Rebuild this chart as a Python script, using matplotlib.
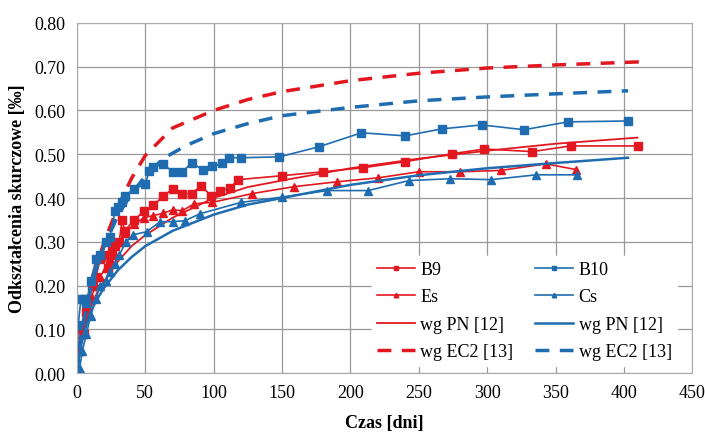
import matplotlib
matplotlib.use('Agg')
from matplotlib import pyplot as plt

plt.rcParams['font.family'] = ['Liberation Serif', 'DejaVu Serif']

RED = '#e3171f'
BLUE = '#1f6db0'

# measured series
b9_x = [0, 1, 3, 5, 7, 9, 11, 14, 17, 20, 23, 26, 28, 31, 33, 35, 42, 49, 56, 63,
        70, 77, 84, 91, 98, 105, 112, 118, 150, 180, 209, 240, 274, 298, 333, 361, 410]
b9_y = [0.00, 0.05, 0.10, 0.09, 0.14, 0.17, 0.20, 0.22, 0.26, 0.27, 0.24, 0.28, 0.29,
        0.30, 0.35, 0.325, 0.35, 0.37, 0.383, 0.404, 0.421, 0.41, 0.41, 0.428, 0.405,
        0.415, 0.423, 0.442, 0.451, 0.460, 0.469, 0.483, 0.501, 0.512, 0.506, 0.519, 0.519]

b10_x = [0, 1, 3, 5, 7, 10, 14, 17, 21, 24, 28, 30, 33, 35, 42, 50, 53, 56, 63, 70,
         77, 84, 92, 99, 106, 111, 120, 148, 177, 208, 240, 267, 296, 327, 359, 403]
b10_y = [0.00, 0.11, 0.17, 0.17, 0.16, 0.21, 0.26, 0.27, 0.30, 0.31, 0.37, 0.38, 0.39,
         0.405, 0.421, 0.432, 0.462, 0.47, 0.478, 0.46, 0.46, 0.48, 0.465, 0.472, 0.479,
         0.492, 0.492, 0.494, 0.517, 0.549, 0.542, 0.558, 0.567, 0.556, 0.574, 0.576]

es_x = [0, 2, 4, 7, 10, 14, 17, 21, 24, 28, 31, 35, 42, 49, 56, 63, 70, 77, 86, 99,
        128, 159, 190, 220, 250, 280, 310, 343, 365]
es_y = [0.00, 0.05, 0.09, 0.13, 0.17, 0.20, 0.22, 0.24, 0.26, 0.27, 0.30, 0.32, 0.34,
        0.355, 0.36, 0.365, 0.373, 0.371, 0.387, 0.39, 0.41, 0.426, 0.437, 0.446, 0.46,
        0.46, 0.463, 0.478, 0.465]

cs_x = [0, 2, 4, 7, 10, 14, 17, 21, 24, 28, 31, 36, 41, 51, 61, 70, 79, 90, 120, 150,
        183, 213, 243, 273, 303, 336, 366]
cs_y = [0.00, 0.01, 0.05, 0.09, 0.13, 0.17, 0.20, 0.21, 0.23, 0.25, 0.27, 0.30, 0.316,
        0.323, 0.346, 0.346, 0.348, 0.364, 0.39, 0.402, 0.417, 0.417, 0.44, 0.444, 0.442,
        0.453, 0.453]

# model curves
pn_red_x = [0, 2, 5, 10, 15, 20, 30, 40, 50, 70, 100, 125, 150, 200, 250, 300, 350, 410]
pn_red_y = [0.00, 0.05, 0.10, 0.15, 0.185, 0.21, 0.255, 0.29, 0.315, 0.355, 0.40, 0.425,
            0.44, 0.468, 0.49, 0.508, 0.524, 0.538]
pn_blue_x = [0, 2, 5, 10, 15, 20, 30, 40, 50, 70, 100, 125, 150, 200, 250, 300, 350, 403]
pn_blue_y = [0.00, 0.045, 0.09, 0.14, 0.17, 0.195, 0.235, 0.265, 0.29, 0.325, 0.362, 0.385,
             0.40, 0.43, 0.452, 0.468, 0.48, 0.492]
ec_red_x = [0, 2, 5, 10, 15, 20, 30, 40, 50, 70, 100, 125, 150, 200, 250, 300, 350, 411]
ec_red_y = [0.00, 0.06, 0.12, 0.19, 0.25, 0.30, 0.38, 0.445, 0.497, 0.56, 0.60, 0.625,
            0.643, 0.668, 0.685, 0.697, 0.704, 0.711]
ec_blue_x = [0, 2, 5, 10, 15, 20, 30, 40, 50, 63, 80, 100, 125, 150, 200, 250, 300, 350, 403]
ec_blue_y = [0.00, 0.06, 0.12, 0.19, 0.245, 0.29, 0.36, 0.41, 0.45, 0.49, 0.52, 0.547,
             0.57, 0.588, 0.607, 0.622, 0.631, 0.638, 0.645]

xticks = [0, 50, 100, 150, 200, 250, 300, 350, 400, 450]
yticks = [0.0, 0.1, 0.2, 0.3, 0.4, 0.5, 0.6, 0.7, 0.8]

fig = plt.figure(figsize=(7.05, 4.35), dpi=100)
ax = fig.add_axes([0.109, 0.14, 0.873, 0.805])

ax.plot(b9_x, b9_y, '-s', color=RED, lw=1.2, ms=5.5, label='B9')
ax.plot(es_x, es_y, '-^', color=RED, lw=1.2, ms=5.5, label='Es')
ax.plot(pn_red_x, pn_red_y, '-', color=RED, lw=1.3, label='wg PN [12]')
ax.plot(ec_red_x, ec_red_y, '--', color=RED, lw=2.5, dashes=(4, 3), label='wg EC2 [13]')
ax.plot(b10_x, b10_y, '-s', color=BLUE, lw=1.2, ms=5.5, label='B10')
ax.plot(cs_x, cs_y, '-^', color=BLUE, lw=1.2, ms=5.5, label='Cs')
ax.plot(pn_blue_x, pn_blue_y, '-', color=BLUE, lw=1.8, label='wg PN [12]')
ax.plot(ec_blue_x, ec_blue_y, '--', color=BLUE, lw=2.5, dashes=(4, 3), label='wg EC2 [13]')

ax.set_xlim(0, 450)
ax.set_ylim(0, 0.8)
ax.set_xticks(xticks)
ax.set_yticks(yticks)
ax.set_yticklabels(['%.2f' % v for v in yticks])
ax.tick_params(length=0, labelsize=13, pad=8)
ax.grid(True, color='#999999', lw=0.9)
ax.set_axisbelow(True)
for s in ax.spines.values():
    s.set_color('#aaaaaa')

ax.set_xlabel('Czas [dni]', fontsize=13, fontweight='bold', labelpad=9)
ax.set_ylabel('Odkształcenia skurczowe [‰]', fontsize=13, fontweight='bold', labelpad=6)

leg = ax.legend(ncol=2, loc='lower right', bbox_to_anchor=(0.99, -0.005), fontsize=13,
                frameon=True, fancybox=False, edgecolor='white', framealpha=1,
                handlelength=2.1, columnspacing=1.2, labelspacing=0.58, handletextpad=0.3,
                markerscale=0.6, borderpad=0.3)

fig.savefig('out.png', dpi=100)
